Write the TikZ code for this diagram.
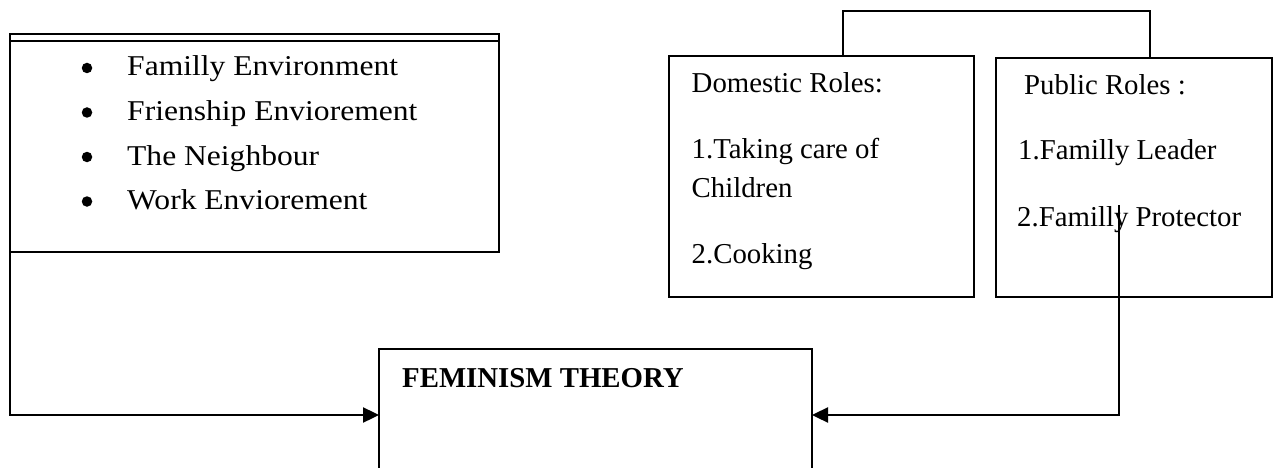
\documentclass[tikz,border=0pt]{standalone}
\usepackage{fontspec}
\setmainfont{Liberation Serif}
\newfontfamily\listfont{Liberation Serif}[FakeStretch=1.1]
\usetikzlibrary{arrows.meta,calc}
\begin{document}
\begin{tikzpicture}[x=1pt,y=1pt,
  boxline/.style={line width=2pt, black},
  conn/.style={line width=2pt, black},
  arr/.style={line width=2.4pt, black, -{Triangle[length=16pt,width=15pt]}},
  area/.style={rectangle, inner sep=0pt, outer sep=0pt},
  listtxt/.style={anchor=base west, inner sep=0pt, font=\listfont\fontsize{28.7}{30}\selectfont},
  roletxt/.style={anchor=base west, inner sep=0pt, font=\fontsize{28.8}{30}\selectfont},
  bul/.style={circle, fill=black, inner sep=0pt, minimum size=10.5pt}
]
\useasboundingbox (0,0) rectangle (1282,-468);

% boxes
\node[area, draw, boxline, minimum width=489pt, minimum height=211pt] (env) at (254.5,-146.5) {};
\node[area, minimum width=433pt, minimum height=132pt] (fem) at (595.5,-415) {};
\node[area, draw, boxline, minimum width=305pt, minimum height=241pt] (dom) at (821.5,-176.5) {};
\node[area, draw, boxline, minimum width=276pt, minimum height=239pt] (pub) at (1134,-177.5) {};

% double top of the environment box
\coordinate (envtl) at ($(env.north west)+(0,7)$);
\coordinate (envtr) at ($(env.north east)+(0,7)$);
\draw[boxline] (env.north west) -- (envtl) -- (envtr) -- (env.north east);

% feminism box frame (open at page bottom)
\coordinate (pagebot) at (0,-468);
\draw[boxline] (fem.west |- pagebot) -- (fem.north west) -- (fem.north east) -- (fem.east |- pagebot);

% list text
\node[bul] (b1) at (87,-68) {};
\node[bul] (b2) at (87,-112.5) {};
\node[bul] (b3) at (87,-157) {};
\node[bul] (b4) at (87,-201.5) {};
\node[listtxt] (l1) at (127,-76) {Familly Environment};
\node[listtxt] (l2) at (127,-120.5) {Frienship Enviorement};
\node[listtxt] (l3) at (127,-165) {The Neighbour};
\node[listtxt] (l4) at (127,-209.5) {Work Enviorement};

% domestic roles
\node[roletxt] (d1) at (691.5,-93) {Domestic Roles:};
\node[roletxt] (d2) at (691.5,-158) {1.Taking care of};
\node[roletxt] (d3) at (691.5,-197) {Children};
\node[roletxt] (d4) at (691.5,-263) {2.Cooking};

% public roles
\node[roletxt] (p1) at (1024,-95) {Public Roles :};
\node[roletxt] (p2) at (1018,-160) {1.Familly Leader};
\node[roletxt] (p3) at (1017,-226) {2.Familly Protector};

% feminism title
\node[anchor=base west, inner sep=0pt, font=\bfseries\fontsize{28.8}{30}\selectfont] (ft) at (402,-387) {FEMINISM THEORY};

% connectors
\draw[conn] ([xshift=21.5pt]dom.north) -- ++(0,45) -| ([xshift=16pt]pub.north);
\draw[arr] (envtl) |- (fem.west);
\coordinate (pstart) at (1119,-205);
\draw[arr] (pstart) |- (fem.east);
\end{tikzpicture}
\end{document}
